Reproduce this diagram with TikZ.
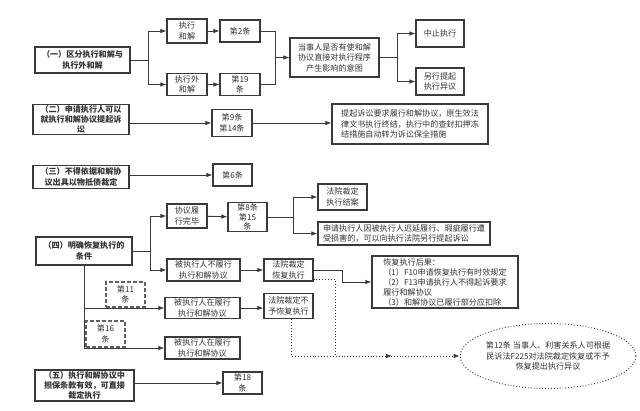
\documentclass[tikz,border=0pt]{standalone}
\usepackage{fontspec}
\setmainfont{Noto Sans CJK SC}
\usetikzlibrary{arrows.meta,shapes.geometric}
\definecolor{ink}{HTML}{333333}
\definecolor{edge}{HTML}{3A3A3A}
\tikzset{
  >={Latex[length=6pt,width=4.5pt]},
  every node/.style={text=ink,font=\fontsize{8.1}{10.5}\selectfont},
  box/.style={draw=edge,line width=1.1pt,align=center,inner sep=1pt},
  headbox/.style={box,font=\fontsize{8.1}{10.5}\selectfont\bfseries},
  notebox/.style={box,align=left,inner xsep=3pt},
  refbox/.style={box,draw=edge!80,dash pattern=on 4pt off 2pt},
  link/.style={line width=0.9pt,draw=edge},
  arrow/.style={->,line width=0.9pt,draw=edge},
  dotarr/.style={->,line width=0.9pt,draw=edge,dotted},
  ovalbox/.style={ellipse,draw=edge,dotted,line width=0.9pt,align=center,inner sep=0pt},
}

\begin{document}
\begin{tikzpicture}[x=1pt,y=-1pt]
\useasboundingbox[fill=white] (0,0) rectangle (640,410);

% (一) execution settlement vs outside settlement
\node[headbox,minimum width=95pt,minimum height=26pt] (g1) at (82.5,60) {（一）区分执行和解与\\执行外和解};
\node[box,minimum width=40pt,minimum height=24pt] (hj) at (187,31) {执行\\和解};
\node[box,minimum width=40pt,minimum height=22pt] (a2) at (240,31) {第2条};
\node[box,minimum width=40pt,minimum height=22pt] (wj) at (187,84.5) {执行外\\和解};
\node[box,minimum width=40pt,minimum height=22pt] (a19) at (240,84.5) {第19\\条};
\node[box,minimum width=89pt,minimum height=39pt] (yt) at (334.5,57.5) {当事人是否有使和解\\协议直接对执行程序\\产生影响的意图};
\node[box,minimum width=48pt,minimum height=27pt] (zz) at (440,33.5) {中止执行};
\node[box,minimum width=48pt,minimum height=27pt] (yy) at (440,81.5) {另行提起\\执行异议};
\coordinate (s1) at (148,60);
\coordinate (m1) at (275,57.5);
\coordinate (s2) at (397,57.5);
\draw[link] (g1.east) -- (s1);
\draw[arrow] (s1) |- (hj.west);
\draw[arrow] (s1) |- (wj.west);
\draw[arrow] (hj) -- (a2);
\draw[arrow] (wj) -- (a19);
\draw[link] (a2.east) -| (m1);
\draw[link] (a19.east) -| (m1);
\draw[arrow] (m1) -- (yt.west);
\draw[link] (yt.east) -- (s2);
\draw[arrow] (s2) |- (zz.west);
\draw[arrow] (s2) |- (yy.west);

% (二) and (三)
\node[headbox,minimum width=96pt,minimum height=30pt,font=\fontsize{8.1}{9.8}\selectfont\bfseries] (g2) at (81,119.5) {（二）申请执行人可以\\就执行和解协议提起诉\\讼};
\node[box,minimum width=40pt,minimum height=27pt] (a9) at (232,123) {第9条\\第14条};
\node[notebox,minimum width=156pt,minimum height=40pt] (ss) at (410,124) {提起诉讼要求履行和解协议，原生效法\\律文书执行终结，执行中的查封扣押冻\\结措施自动转为诉讼保全措施};
\draw[arrow] (g2.east |- a9.west) -- (a9.west);
\draw[arrow] (a9.east) -- (a9.east -| ss.west);
\node[headbox,minimum width=96pt,minimum height=23pt] (g3) at (81,177) {（三）不得依据和解协\\议出具以物抵债裁定};
\node[box,minimum width=39pt,minimum height=22pt] (a6) at (232.5,175) {第6条};
\draw[arrow] (g3.east |- a6.west) -- (a6.west);

% (四) conditions for resuming execution
\node[headbox,minimum width=96pt,minimum height=28pt] (g4) at (84,251) {（四）明确恢复执行的\\条件};
\node[box,minimum width=40pt,minimum height=24pt] (lw) at (187,216) {协议履\\行完毕};
\node[box,minimum width=39pt,minimum height=28pt,font=\fontsize{8.1}{9.5}\selectfont] (a8) at (247.5,217) {第8条\\第15\\条};
\node[box,minimum width=49pt,minimum height=26pt] (ja) at (342.5,197) {法院裁定\\执行结案};
\node[notebox,minimum width=172pt,minimum height=23pt] (sq) at (404,233.5) {申请执行人因被执行人迟延履行、瑕疵履行遭\\受损害的，可以向执行法院另行提起诉讼};
\node[box,minimum width=73pt,minimum height=22pt] (bl) at (203.5,270) {被执行人不履行\\执行和解协议};
\node[box,minimum width=49pt,minimum height=22pt] (hf) at (288.5,270) {法院裁定\\恢复执行};
\node[notebox,minimum width=146pt,minimum height=52pt,font=\fontsize{8.1}{10}\selectfont,inner ysep=0.5pt] (hg) at (445,282) {恢复执行后果：\\（1）F10申请恢复执行有时效规定\\（2）F13申请执行人不得起诉要求\\履行和解协议\\（3）和解协议已履行部分应扣除};
\node[refbox,minimum width=39pt,minimum height=25pt] (c11) at (125.5,294.5) {第11\\条};
\node[box,minimum width=75pt,minimum height=21pt] (zl1) at (202.5,308) {被执行人在履行\\执行和解协议};
\node[box,minimum width=49pt,minimum height=25pt] (bf) at (288.5,306) {法院裁定不\\予恢复执行};
\node[refbox,minimum width=39pt,minimum height=26pt] (c16) at (105.5,334) {第16\\条};
\node[box,minimum width=75pt,minimum height=22pt] (zl2) at (202.5,348) {被执行人在履行\\执行和解协议};
\node[ovalbox,minimum width=147pt,minimum height=65pt] (el) at (548,356) {第12条 当事人、利害关系人可根据\\民诉法F225对法院裁定恢复或不予\\恢复提出执行异议};
\coordinate (s3) at (150,251);
\coordinate (s4) at (293,217);
\coordinate (k1) at (342,282);
\coordinate (d1) at (335,356);
\coordinate (d2) at (392,356);
\draw[link] (g4.east) -- (s3);
\draw[arrow] (s3) |- (lw.west);
\draw[arrow] (s3) |- (bl.west);
\draw[arrow] (lw) -- (a8);
\draw[link] (a8.east) -- (s4);
\draw[arrow] (s4) |- (ja.west);
\draw[arrow] (s4) |- (sq.west);
\draw[arrow] (bl) -- (hf);
\draw[link] (hf.east) -| (k1);
\draw[arrow] (k1) -- (hg.west);
\draw[arrow] (g4.south) |- (zl1.west);
\draw[arrow] (g4.south) |- (zl2.west);
\draw[arrow] (zl1.east) -- (zl1.east -| bf.west);
\draw[dotarr] ([yshift=2pt]hf.south east) -| (d1) -- (el.west);
\draw[dotarr] ([xshift=3pt]bf.south) |- (d2);

% (五) guarantee clause
\node[headbox,minimum width=99pt,minimum height=31pt,font=\fontsize{8.1}{9.8}\selectfont\bfseries] (g5) at (84.5,385.5) {（五）执行和解协议中\\担保条款有效，可直接\\裁定执行};
\node[box,minimum width=39pt,minimum height=22pt] (a18) at (242.5,383) {第18\\条};
\draw[arrow] (g5.east |- a18.west) -- (a18.west);

\end{tikzpicture}
\end{document}
